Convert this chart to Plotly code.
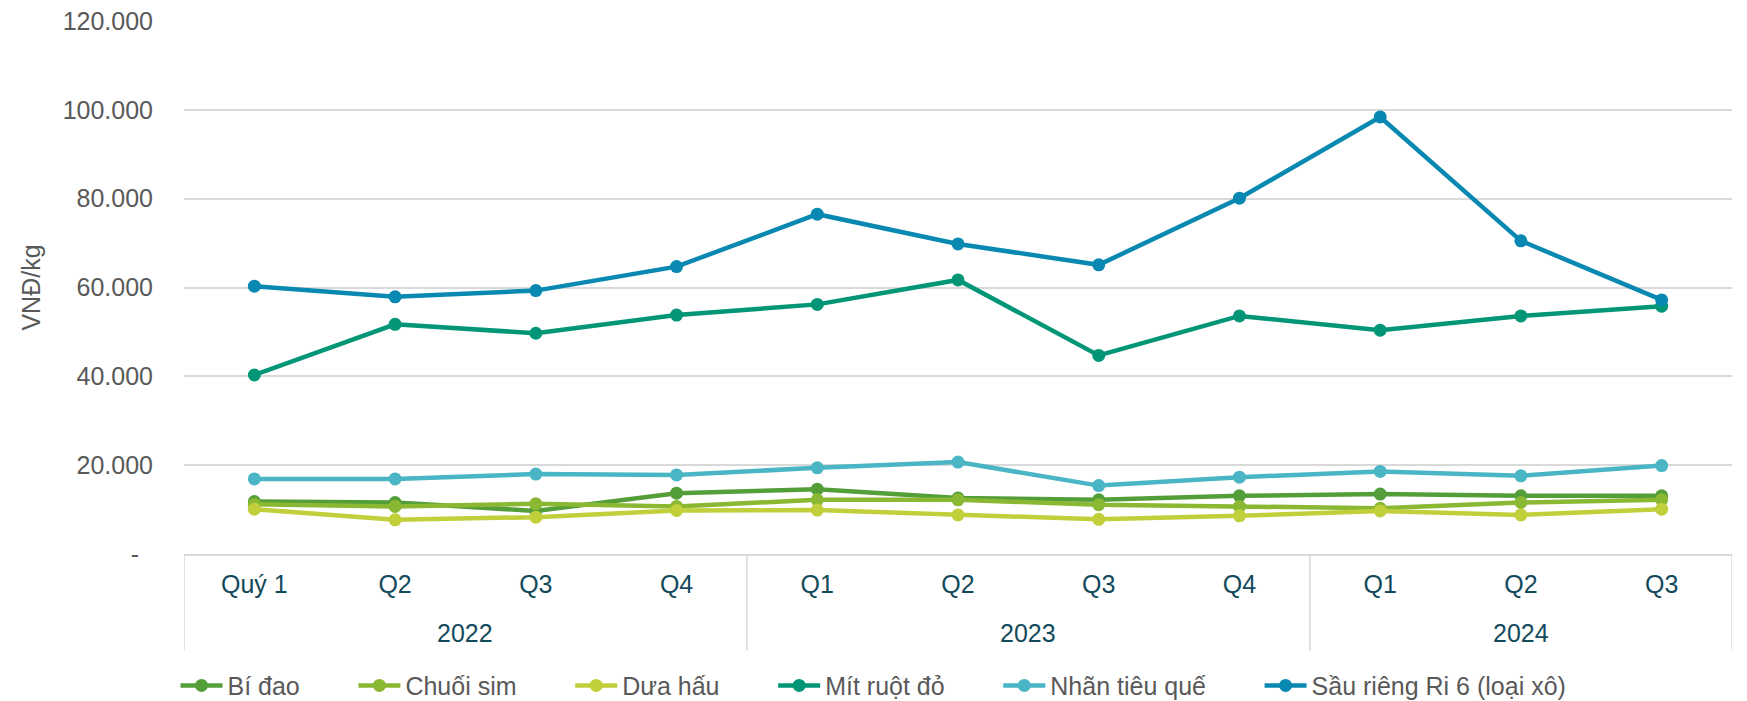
import plotly.graph_objects as go

years = ["2022"] * 4 + ["2023"] * 4 + ["2024"] * 3
quarters = ["Quý 1", "Q2", "Q3", "Q4", "Q1", "Q2", "Q3", "Q4", "Q1", "Q2", "Q3"]

bi_dao = [11.8, 11.6, 9.7, 13.7, 14.6, 12.6, 12.2, 13.1, 13.5, 13.1, 13.1]
chuoi_sim = [11.2, 10.7, 11.3, 10.7, 12.2, 12.2, 11.1, 10.7, 10.3, 11.6, 12.2]
dua_hau = [10.1, 7.7, 8.3, 9.8, 9.9, 8.8, 7.8, 8.6, 9.7, 8.8, 10.1]
mit_ruot_do = [40.3, 51.7, 49.7, 53.8, 56.2, 61.7, 44.7, 53.6, 50.4, 53.6, 55.8]
nhan_tieu_que = [16.9, 16.9, 18.0, 17.8, 19.4, 20.7, 15.4, 17.3, 18.6, 17.6, 19.9]
sau_rieng = [60.3, 57.9, 59.3, 64.7, 76.5, 69.8, 65.1, 80.1, 98.4, 70.5, 57.2]

series = [
    ("Bí đao", bi_dao, "#549E39"),
    ("Chuối sim", chuoi_sim, "#8AB833"),
    ("Dưa hấu", dua_hau, "#C0CF3A"),
    ("Mít ruột đỏ", mit_ruot_do, "#029676"),
    ("Nhãn tiêu quế", nhan_tieu_que, "#4AB5C4"),
    ("Sầu riêng Ri 6 (loại xô)", sau_rieng, "#0989B1"),
]

tick_vals = [0, 20000, 40000, 60000, 80000, 100000, 120000]
tick_text = ["-\u00a0\u00a0", "20.000", "40.000", "60.000", "80.000", "100.000", "120.000"]

GRAY = "#595959"
CAT = "#124A5C"
GRID = "#D9D9D9"
PAD = "\u00a0" * 7  # extra room between legend entries

idx = list(range(len(quarters)))

fig = go.Figure()
for i, (name, vals, color) in enumerate(series):
    label = name if i == len(series) - 1 else name + PAD
    fig.add_trace(go.Scatter(
        x=idx, y=[v * 1000 for v in vals], name=label, mode="lines+markers",
        line=dict(color=color, width=4.5), marker=dict(size=13, color=color),
    ))

# year groups: label in the middle, divider lines at the group edges
groups = []
for i, y in enumerate(years):
    if not groups or groups[-1][0] != y:
        groups.append([y, i, i])
    else:
        groups[-1][2] = i

DIV_BOTTOM = -0.181
for y, a, b in groups:
    fig.add_annotation(x=(a + b) / 2, y=-0.149, xref="x", yref="paper", text=y, showarrow=False,
                       font=dict(color=CAT, size=25), yanchor="middle")
edges = [groups[0][1] - 0.5] + [b + 0.5 for _, _, b in groups]
for e in edges:
    fig.add_shape(type="line", xref="x", yref="paper", x0=e, x1=e, y0=0, y1=DIV_BOTTOM,
                  line=dict(color=GRID, width=1.5))

fig.update_layout(
    width=1747, height=701,
    paper_bgcolor="white", plot_bgcolor="white",
    font=dict(family="Liberation Sans, Arial, sans-serif", color=GRAY, size=25),
    margin=dict(l=184, r=15, t=21, b=147, autoexpand=False),
    showlegend=True,
    legend=dict(orientation="h", xref="container", x=0.5, xanchor="center",
                y=-0.247, yanchor="middle", font=dict(size=25, color=GRAY),
                bgcolor="rgba(0,0,0,0)", itemwidth=42),
    xaxis=dict(range=[-0.5, len(quarters) - 0.5], tickvals=idx, ticktext=quarters, tickangle=0,
               showgrid=False, showline=True, linecolor=GRID, linewidth=2, automargin=False,
               tickfont=dict(color=CAT, size=25), ticks="", ticklabelstandoff=7, zeroline=False),
    yaxis=dict(range=[0, 120000], tickvals=tick_vals, ticktext=tick_text, showgrid=True,
               gridcolor=GRID, gridwidth=1.5, zeroline=False, showline=False, automargin=False,
               tickfont=dict(color=GRAY, size=25), ticklabelstandoff=30,
               title=dict(text="VNĐ/kg", font=dict(color=GRAY, size=25), standoff=14)),
)

fig.write_html("out.html", config={"displayModeBar": False},
               post_script="document.body.style.margin = '0';")
